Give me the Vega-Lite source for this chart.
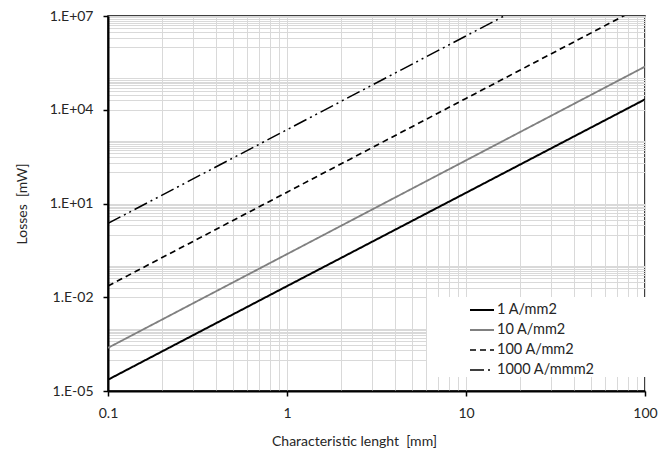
{
  "$schema": "https://vega.github.io/schema/vega-lite/v6.json",
  "width": 537,
  "height": 375,
  "autosize": "none",
  "padding": {"left": 108, "top": 16, "right": 13, "bottom": 66},
  "background": "white",
  "config": {
    "view": {"stroke": "black", "strokeWidth": 1.5},
    "font": "Lato"
  },
  "data": {
    "values": [
      {"length": 0.1, "losses": 0.000023, "series": "1 A/mm2"},
      {"length": 1, "losses": 0.0227, "series": "1 A/mm2"},
      {"length": 10, "losses": 22, "series": "1 A/mm2"},
      {"length": 100, "losses": 21500, "series": "1 A/mm2"},
      {"length": 0.1, "losses": 0.00024, "series": "10 A/mm2"},
      {"length": 1, "losses": 0.24, "series": "10 A/mm2"},
      {"length": 10, "losses": 240, "series": "10 A/mm2"},
      {"length": 100, "losses": 240000, "series": "10 A/mm2"},
      {"length": 0.1, "losses": 0.023, "series": "100 A/mm2"},
      {"length": 1, "losses": 23, "series": "100 A/mm2"},
      {"length": 10, "losses": 23000, "series": "100 A/mm2"},
      {"length": 100, "losses": 23000000, "series": "100 A/mm2"},
      {"length": 0.1, "losses": 2.3, "series": "1000 A/mmm2"},
      {"length": 1, "losses": 2300, "series": "1000 A/mmm2"},
      {"length": 10, "losses": 2300000, "series": "1000 A/mmm2"},
      {"length": 100, "losses": 2300000000, "series": "1000 A/mmm2"}
    ]
  },
  "mark": {"type": "line", "clip": true},
  "encoding": {
    "x": {
      "field": "length",
      "type": "quantitative",
      "scale": {"type": "log", "domain": [0.1, 100], "nice": false},
      "axis": {
        "title": "Characteristic lenght\u00a0\u00a0[mm]",
        "titleFont": "Lato",
        "titleFontSize": 14,
        "titleFontWeight": "normal",
        "titleColor": "#262626",
        "titlePadding": 14,
        "titleX": 246,
        "values": [0.1, 0.2, 0.3, 0.4, 0.5, 0.6, 0.7, 0.8, 0.9, 1, 2, 3, 4, 5, 6, 7, 8, 9, 10, 20, 30, 40, 50, 60, 70, 80, 90, 100],
        "format": "~g",
        "labelExpr": "indexof([0.1, 1, 10, 100], datum.value) >= 0 ? datum.label : ''",
        "labelFont": "Lato",
        "labelFontSize": 14,
        "labelColor": "#262626",
        "labelPadding": 10,
        "labelFlush": false,
        "labelOverlap": false,
        "labelBound": false,
        "grid": true,
        "gridColor": "#d9d9d9",
        "gridWidth": 1,
        "domainColor": "black",
        "domainWidth": 2,
        "tickColor": "black",
        "tickWidth": 1.5,
        "tickSize": 5,
        "tickOpacity": {"condition": {"test": "indexof([0.1, 1, 10, 100], datum.value) >= 0", "value": 1}, "value": 0}
      }
    },
    "y": {
      "field": "losses",
      "type": "quantitative",
      "scale": {"type": "log", "domain": [0.00001, 10000000], "nice": false},
      "axis": {
        "title": "Losses\u00a0\u00a0[mW]",
        "titleFont": "Lato",
        "titleFontSize": 14,
        "titleFontWeight": "normal",
        "titleColor": "#262626",
        "titlePadding": 20,
        "values": [0.00001, 0.0001, 0.0002, 0.0003, 0.0004, 0.0005, 0.0006, 0.0007, 0.0008, 0.0009, 0.001, 0.01, 0.02, 0.03, 0.04, 0.05, 0.06, 0.07, 0.08, 0.09, 0.1, 1, 2, 3, 4, 5, 6, 7, 8, 9, 10, 100, 200, 300, 400, 500, 600, 700, 800, 900, 1000, 10000, 20000, 30000, 40000, 50000, 60000, 70000, 80000, 90000, 100000, 1000000, 2000000, 3000000, 4000000, 5000000, 6000000, 7000000, 8000000, 9000000, 10000000],
        "labelExpr": "indexof([0.00001, 0.01, 10, 10000, 10000000], datum.value) >= 0 ? '1.E' + (datum.value < 1 ? '-' : '+') + '0' + abs(round(log(datum.value) / LN10)) : ''",
        "labelFont": "Lato",
        "labelFontSize": 14,
        "labelColor": "#262626",
        "labelPadding": 10,
        "labelFlush": false,
        "labelOverlap": false,
        "labelBound": false,
        "grid": true,
        "gridColor": "#d9d9d9",
        "gridWidth": 1,
        "domainColor": "black",
        "domainWidth": 2,
        "tickColor": "black",
        "tickWidth": 1.5,
        "tickSize": 5,
        "tickOpacity": {"condition": {"test": "indexof([0.00001, 0.01, 10, 10000, 10000000], datum.value) >= 0", "value": 1}, "value": 0}
      }
    },
    "color": {
      "field": "series",
      "type": "nominal",
      "scale": {
        "domain": ["1 A/mm2", "10 A/mm2", "100 A/mm2", "1000 A/mmm2"],
        "range": ["#000000", "#808080", "#000000", "#000000"]
      },
      "legend": {
        "title": null,
        "orient": "none",
        "legendX": 319,
        "legendY": 281,
        "fillColor": "white",
        "padding": 0,
        "symbolType": "stroke",
        "symbolSize": 576,
        "symbolStrokeWidth": 2,
        "symbolOffset": 42,
        "labelOffset": 2,
        "labelFont": "Lato",
        "labelFontSize": 14.5,
        "labelColor": "#262626",
        "labelLimit": 300,
        "rowPadding": -3,
        "labelExpr": "datum.label + '\u00a0\u00a0\u00a0\u00a0\u00a0\u00a0\u00a0\u00a0\u00a0\u00a0\u00a0\u00a0\u00a0\u00a0\u00a0\u00a0\u200b'"
      }
    },
    "strokeDash": {
      "field": "series",
      "type": "nominal",
      "scale": {
        "domain": ["1 A/mm2", "10 A/mm2", "100 A/mm2", "1000 A/mmm2"],
        "range": [[1, 0], [1, 0], [6, 4], [14, 4, 2, 4, 2, 4]]
      }
    },
    "strokeWidth": {
      "field": "series",
      "type": "nominal",
      "scale": {
        "domain": ["1 A/mm2", "10 A/mm2", "100 A/mm2", "1000 A/mmm2"],
        "range": [2, 1.5, 2, 2]
      }
    }
  }
}
